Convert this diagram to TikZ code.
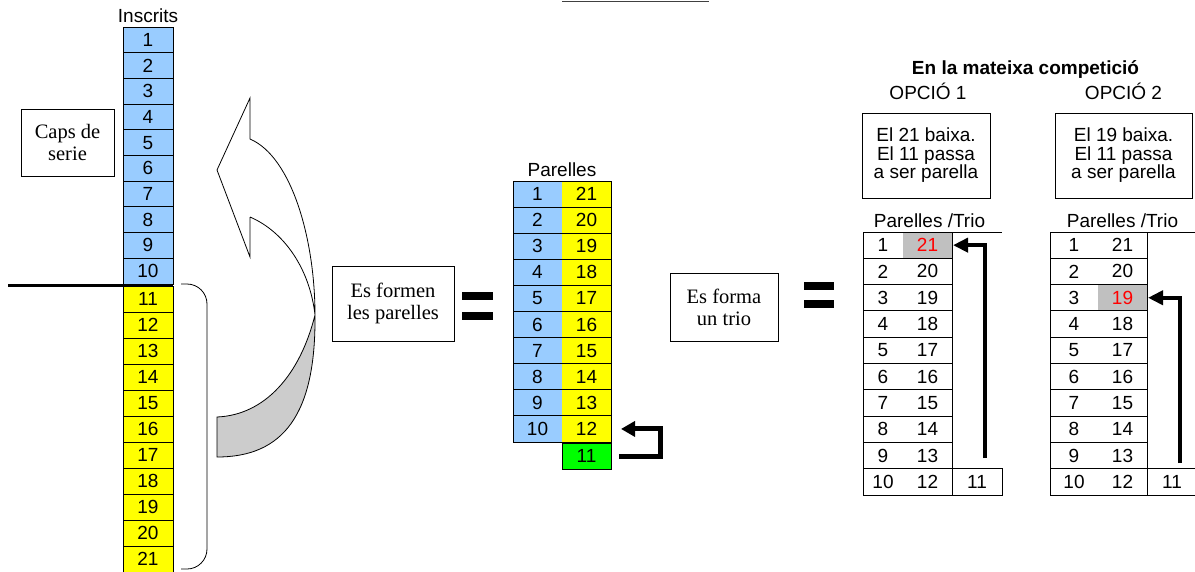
\documentclass[tikz,border=0pt]{standalone}
\usepackage{fontspec}
\setmainfont{Liberation Sans}
\newfontfamily\tnr{Liberation Serif}
\usetikzlibrary{arrows.meta}
\definecolor{cblue}{HTML}{99CCFF}
\definecolor{cyel}{HTML}{FFFF00}
\definecolor{cgreen}{HTML}{00FF00}
\definecolor{cgrey}{HTML}{C0C0C0}
\definecolor{agrey}{HTML}{CCCCCC}
\definecolor{cred}{HTML}{FF0000}
\tikzset{
  txt/.style={inner sep=0pt, outer sep=0pt, font=\fontsize{19}{21}\selectfont},
  cell/.style={txt, draw, line width=1pt, minimum width=50pt, minimum height=25.7pt},
  pcell/.style={txt, minimum width=49pt, minimum height=26.1pt},
  tcell/.style={txt, minimum height=26.3pt},
  hl/.style={fill=cgrey, text=cred},
  plain/.style={},
  serifbox/.style={draw, line width=1pt, align=center, inner sep=0pt,
    font=\tnr\fontsize{20.5}{22}\selectfont},
  sansbox/.style={draw, line width=1pt, align=center, inner sep=0pt,
    font=\fontsize{19}{18.5}\selectfont},
  bigarrow/.style={line width=5pt, -{Triangle[length=14pt,width=15pt]}},
  tarrow/.style={line width=4.5pt, -{Triangle[length=15pt,width=14pt]}},
  thin/.style={line width=1pt}
}
\begin{document}
\begin{tikzpicture}[x=1pt,y=-1pt]
\useasboundingbox (0,0) rectangle (1195,571);

% top line
\draw[line width=1.5pt, draw=black!75] (562,1.5) -- (709,1.5);

% ---------- left column ----------
\node[txt, anchor=base] (insc) at (148,22) {Inscrits};
\foreach \i in {1,...,10}
  \node[cell, fill=cblue] (l\i) at (148, {27+(\i-0.5)*25.7}) {\i};
\foreach \i in {11,...,21}
  \node[cell, fill=cyel, minimum height=26pt] (l\i) at (148, {286+(\i-10.5)*26}) {\i};
\coordinate (cutL) at (8,285);
\draw[line width=3pt] (cutL) -- (cutL -| l10.east);

\node[serifbox, minimum width=93pt, minimum height=67pt] (caps) at (67.5,142.5) {Caps de\\serie};

% bracket
\coordinate (brT) at (181,284);
\coordinate (brB) at (181,569);
\draw[line width=0.8pt, rounded corners=20pt] (brT) -- (207,284) -- (207,569) -- (brB);

% curved arrow
\coordinate (X) at (315,315);
\fill[agrey] (X) .. controls (300,375) and (265,415) .. (217,417) -- (217,457)
  .. controls (283,457) and (316,415) .. (X) -- cycle;
\draw[line width=0.8pt, line join=miter]
  (250,217) -- (250,257) -- (217,170) -- (250,98) -- (250,139)
  .. controls (292,157) and (315,240) .. (X)
  .. controls (316,415) and (283,457) .. (217,457)
  -- (217,417)
  .. controls (265,415) and (300,375) .. (X)
  .. controls (310,270) and (285,232) .. (250,217);

% ---------- middle ----------
\node[serifbox, minimum width=122pt, minimum height=75pt] (efp) at (393,303.5) {Es formen\\les parelles};
\fill (462,292) rectangle (493,300);
\fill (462,312) rectangle (493,320);

\node[txt, anchor=base] (parlab) at (562,176) {Parelles};
\foreach \i in {1,...,10}{
  \pgfmathtruncatemacro{\r}{22-\i}
  \node[pcell, fill=cblue] (pb\i) at (537.5, {181+(\i-0.5)*26.1}) {\i};
  \node[pcell, fill=cyel] (py\i) at (586.5, {181+(\i-0.5)*26.1}) {\r};
  \draw[thin] (pb\i.north west) -- (py\i.north east);
}
\draw[thin] (pb1.north west) rectangle (py10.south east);
\node[txt, draw, line width=1pt, fill=cgreen, minimum width=49pt, minimum height=26pt] (g11) at (586.5,456) {11};

\coordinate (baS) at (619,456);
\coordinate (baC) at (660,456);
\draw[bigarrow] (baS) -- (baC) |- ([xshift=10pt]py10.east);

\node[serifbox, minimum width=108pt, minimum height=68pt] (eft) at (724,307) {Es forma\\un trio};
\fill (804,282) rectangle (834,290);
\fill (804,300) rectangle (834,308);

% ---------- right ----------
\node[txt, anchor=base, font=\bfseries\fontsize{19}{21}\selectfont] (title) at (1025.5,74) {En la mateixa competició};
\node[txt, anchor=base] (o1) at (928,99) {OPCIÓ 1};
\node[txt, anchor=base] (o2) at (1123.5,99) {OPCIÓ 2};

\node[sansbox, minimum width=128pt, minimum height=85pt] (b1) at (926,155.5) {El 21 baixa.\\El 11 passa\\a ser parella};
\node[sansbox, minimum width=137pt, minimum height=85pt] (b2) at (1123.5,155.5) {El 19 baixa.\\El 11 passa\\a ser parella};

\node[txt, anchor=base] (pt1) at (929.5,227) {Parelles /Trio};
\node[txt, anchor=base] (pt2) at (1122.5,227) {Parelles /Trio};

% table 1
\foreach \i/\r/\st in {1/21/hl,2/20/plain,3/19/plain,4/18/plain,5/17/plain,6/16/plain,7/15/plain,8/14/plain,9/13/plain,10/12/plain}{
  \node[tcell, minimum width=40pt] (ta\i) at (883, {232+(\i-0.5)*26.3}) {\i};
  \node[tcell, minimum width=49pt, \st] (tb\i) at (927.5, {232+(\i-0.5)*26.3}) {\r};
  \draw[thin] (ta\i.north west) rectangle (tb\i.south east);
}
\node[tcell, draw, line width=1pt, minimum width=50pt] (tc1) at (977, {232+9.5*26.3}) {11};
\draw[thin] (tb1.north east) -- (tb1.north east -| tc1.east);
\coordinate (a1s) at (985,458);
\draw[tarrow] (a1s) |- ([xshift=1pt]tb1.east);

% table 2
\foreach \i/\r/\st in {1/21/plain,2/20/plain,3/19/hl,4/18/plain,5/17/plain,6/16/plain,7/15/plain,8/14/plain,9/13/plain,10/12/plain}{
  \node[tcell, minimum width=48pt] (ua\i) at (1074, {232+(\i-0.5)*26.3}) {\i};
  \node[tcell, minimum width=49pt, \st] (ub\i) at (1122.5, {232+(\i-0.5)*26.3}) {\r};
  \draw[thin] (ua\i.north west) rectangle (ub\i.south east);
}
\node[tcell, draw, line width=1pt, minimum width=50pt] (tc2) at (1172, {232+9.5*26.3}) {11};
\draw[thin] (ub1.north east) -- (ub1.north east -| tc2.east);
\coordinate (a2s) at (1180,463);
\draw[tarrow] (a2s) |- ([xshift=1pt]ub3.east);
\end{tikzpicture}
\end{document}
